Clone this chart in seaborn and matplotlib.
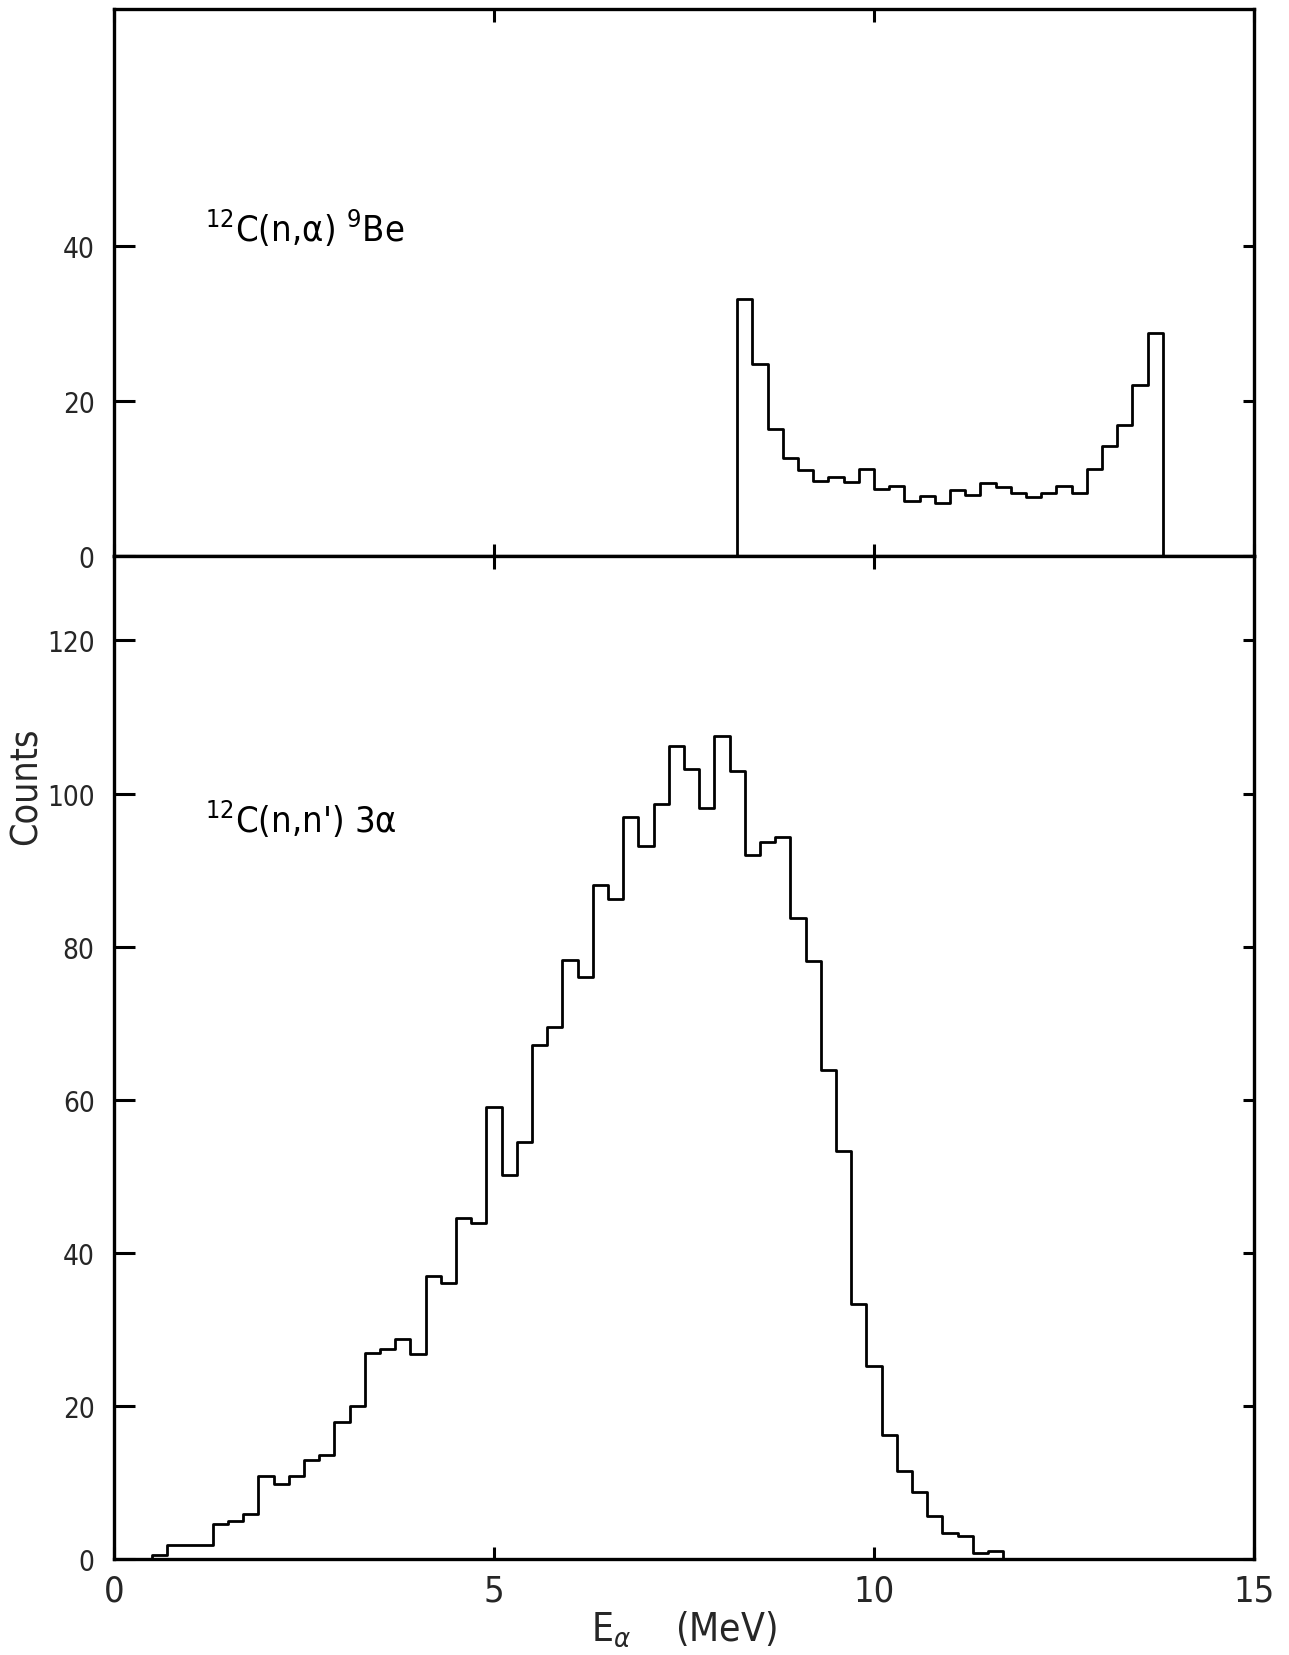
import numpy as np
import pandas as pd
import matplotlib
matplotlib.use("Agg")
import matplotlib.pyplot as plt
import seaborn as sns

# Alpha-particle energy spectra (counts per 0.2 MeV bin)
bin_width = 0.2

# 12C(n,a)9Be : bins starting at 8.2 MeV
ca_start = 8.2
ca_counts = [33.2, 24.7, 16.4, 12.6, 11.1, 9.7, 10.2, 9.6, 11.2, 8.6,
             9.0, 7.1, 7.8, 6.9, 8.5, 7.9, 9.4, 8.9, 8.1, 7.6,
             8.2, 9.0, 8.1, 11.2, 14.2, 16.9, 22.1, 28.7]

# 12C(n,n')3a : bins starting at 0.5 MeV
cn_start = 0.5
cn_counts = [0.6, 1.9, 1.9, 1.9, 4.6, 5.0, 5.9, 10.9, 9.9, 10.9,
             13.0, 13.7, 17.9, 20.0, 26.9, 27.5, 28.8, 26.8, 37.0, 36.1,
             44.6, 43.9, 59.1, 50.2, 54.5, 67.2, 69.5, 78.3, 76.1, 88.1,
             86.3, 96.9, 93.1, 98.7, 106.2, 103.2, 98.1, 107.5, 103.0, 92.0,
             93.7, 94.4, 83.7, 78.1, 63.9, 53.3, 33.3, 25.2, 16.3, 11.5,
             8.8, 5.7, 3.4, 3.0, 0.85, 1.15]

x_ticks = [0, 5, 10, 15]
top_yticks = [0, 20, 40]
bottom_yticks = [0, 20, 40, 60, 80, 100, 120]

sns.set_theme(style="white")
plt.rcParams["font.family"] = ["DejaVu Sans"]
plt.rcParams["font.stretch"] = "condensed"
plt.rcParams["mathtext.fontset"] = "dejavusans"


def spectrum_frame(start, counts):
    edges = start + bin_width * np.arange(len(counts) + 1)
    centers = 0.5 * (edges[:-1] + edges[1:])
    return pd.DataFrame({"E": centers, "counts": counts}), [float(e) for e in edges]


fig = plt.figure(figsize=(12.89, 16.56), dpi=100)
ax_top = fig.add_axes([0.0884, 0.6635, 0.8844, 0.3305])
ax_bot = fig.add_axes([0.0884, 0.0577, 0.8844, 0.6058])

# unfilled outline that closes down to the baseline at both ends
hist_kw = dict(element="step", fill=True, color="black", facecolor="none",
               edgecolor="black", linewidth=2.0)

df_ca, edges_ca = spectrum_frame(ca_start, ca_counts)
sns.histplot(data=df_ca, x="E", weights="counts", bins=edges_ca,
             ax=ax_top, **hist_kw)

df_cn, edges_cn = spectrum_frame(cn_start, cn_counts)
sns.histplot(data=df_cn, x="E", weights="counts", bins=edges_cn,
             ax=ax_bot, **hist_kw)

for ax in (ax_top, ax_bot):
    ax.set_xlim(0, 15)
    ax.set_xticks(x_ticks)
    for sp in ax.spines.values():
        sp.set_visible(True)
        sp.set_color("black")
        sp.set_linewidth(2.4)
        sp.set_zorder(3)
    ax.tick_params(axis="x", which="major", direction="in", top=True,
                   bottom=True, length=9, width=2.2, color="black")
    ax.tick_params(axis="y", which="major", direction="in", left=True,
                   right=True, length=15, width=2.2, color="black",
                   labelsize=20, pad=14)
    ax.set_ylabel("")
    ax.set_xlabel("")
    ax.grid(False)

ax_top.set_ylim(0, 70.5)
ax_top.set_yticks(top_yticks)
ax_top.tick_params(axis="x", labelbottom=False)

ax_bot.set_ylim(0, 131)
ax_bot.set_yticks(bottom_yticks)
ax_bot.tick_params(axis="x", labelsize=26, pad=10)

# shorter ticks on the right-hand frame
for ax in (ax_top, ax_bot):
    for t in ax.yaxis.get_major_ticks():
        t.tick2line.set_markersize(8)

ax_top.text(1.2, 40.6, r"$^{12}$C(n,α) $^{9}$Be", fontsize=26,
            color="black", ha="left", va="baseline")
ax_bot.text(1.2, 95.0, r"$^{12}$C(n,n') 3α", fontsize=26,
            color="black", ha="left", va="baseline")

ax_bot.set_xlabel(r"E$_{\alpha}$    (MeV)", fontsize=28, labelpad=1)
fig.text(0.021, 0.525, "Counts", rotation=90, fontsize=27,
         ha="center", va="center")

fig.savefig("out.png", dpi=100, facecolor="white")
